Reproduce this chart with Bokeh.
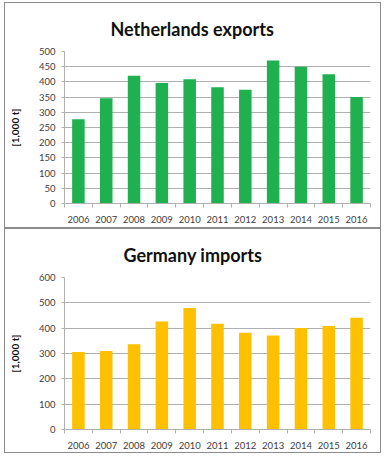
from bokeh.plotting import figure
from bokeh.layouts import column
from bokeh.models import FixedTicker, Range1d, Title, InlineStyleSheet
from bokeh.embed import file_html
from bokeh.resources import INLINE

years = ["2006", "2007", "2008", "2009", "2010", "2011", "2012", "2013", "2014", "2015", "2016"]
nl_exports = [277, 346, 420, 396, 409, 382, 374, 470, 450, 425, 350]
de_imports = [306, 310, 337, 426, 480, 417, 382, 371, 401, 409, 441]
nl_ticks = [0, 50, 100, 150, 200, 250, 300, 350, 400, 450, 500]
de_ticks = [0, 100, 200, 300, 400, 500, 600]

FONT = "Lato"
GRID = "#b0b0b0"
TEXT = "#404040"

border_css = InlineStyleSheet(css=":host { border: 1px solid #8c8c8c; box-sizing: border-box; }")


def make_panel(title, title_offset, values, yticks, color, height, top, bottom, left, right=12):
    xs = list(range(len(years)))
    p = figure(width=377, height=height, output_backend="svg", toolbar_location=None,
               x_range=Range1d(-0.5, len(years) - 0.5),
               y_range=Range1d(yticks[0], yticks[-1]),
               min_border_left=left, min_border_right=right,
               min_border_top=top, min_border_bottom=bottom,
               stylesheets=[border_css])
    # left-aligned with an offset so the title sits centred over the whole panel
    t = Title(text=title, align="left", text_font=FONT, text_font_size="18px",
              text_font_style="bold", text_color="#111111", standoff=24,
              offset=title_offset)
    p.add_layout(t, "above")
    p.vbar(x=xs, top=values, width=0.45, color=color, line_color=None)

    p.xaxis.ticker = FixedTicker(ticks=xs, minor_ticks=[x + 0.5 for x in [-1] + xs])
    p.xaxis.major_label_overrides = {x: y for x, y in zip(xs, years)}
    p.xaxis.major_tick_out = 0
    p.xaxis.major_tick_in = 0
    p.xaxis.minor_tick_out = 4
    p.xaxis.minor_tick_in = 0
    p.xaxis.minor_tick_line_color = GRID
    p.xaxis.axis_line_color = GRID
    p.xaxis.major_label_text_font = FONT
    p.xaxis.major_label_text_font_size = "9.5px"
    p.xaxis.major_label_text_color = TEXT
    p.xaxis.major_label_standoff = 8

    p.yaxis.ticker = FixedTicker(ticks=yticks)
    p.yaxis.axis_line_color = GRID
    p.yaxis.major_tick_line_color = GRID
    p.yaxis.major_tick_out = 3
    p.yaxis.major_tick_in = 0
    p.yaxis.minor_tick_line_color = None
    p.yaxis.major_label_text_font = FONT
    p.yaxis.major_label_text_font_size = "9.5px"
    p.yaxis.major_label_text_color = TEXT
    p.yaxis.major_label_standoff = 6
    p.yaxis.axis_label = "[1,000 t]"
    p.yaxis.axis_label_text_font = FONT
    p.yaxis.axis_label_text_font_size = "10px"
    p.yaxis.axis_label_text_font_style = "bold"
    p.yaxis.axis_label_text_color = "#111111"
    p.yaxis.axis_label_standoff = 15

    p.xgrid.grid_line_color = None
    p.ygrid.grid_line_color = GRID
    p.ygrid.ticker = FixedTicker(ticks=yticks)
    p.outline_line_color = None
    p.border_fill_color = "white"
    p.background_fill_color = "white"
    return p


p1 = make_panel("Netherlands exports", 46, nl_exports, nl_ticks, "#1fb14f", 226, 45, 26, 54)
p2 = make_panel("Germany imports", 59, de_imports, de_ticks, "#ffc000", 225, 44, 25, 53)

layout = column(p1, p2, spacing=0, styles={"margin-left": "4px", "margin-top": "2px"})

open("out.html", "w").write(file_html(layout, INLINE))
